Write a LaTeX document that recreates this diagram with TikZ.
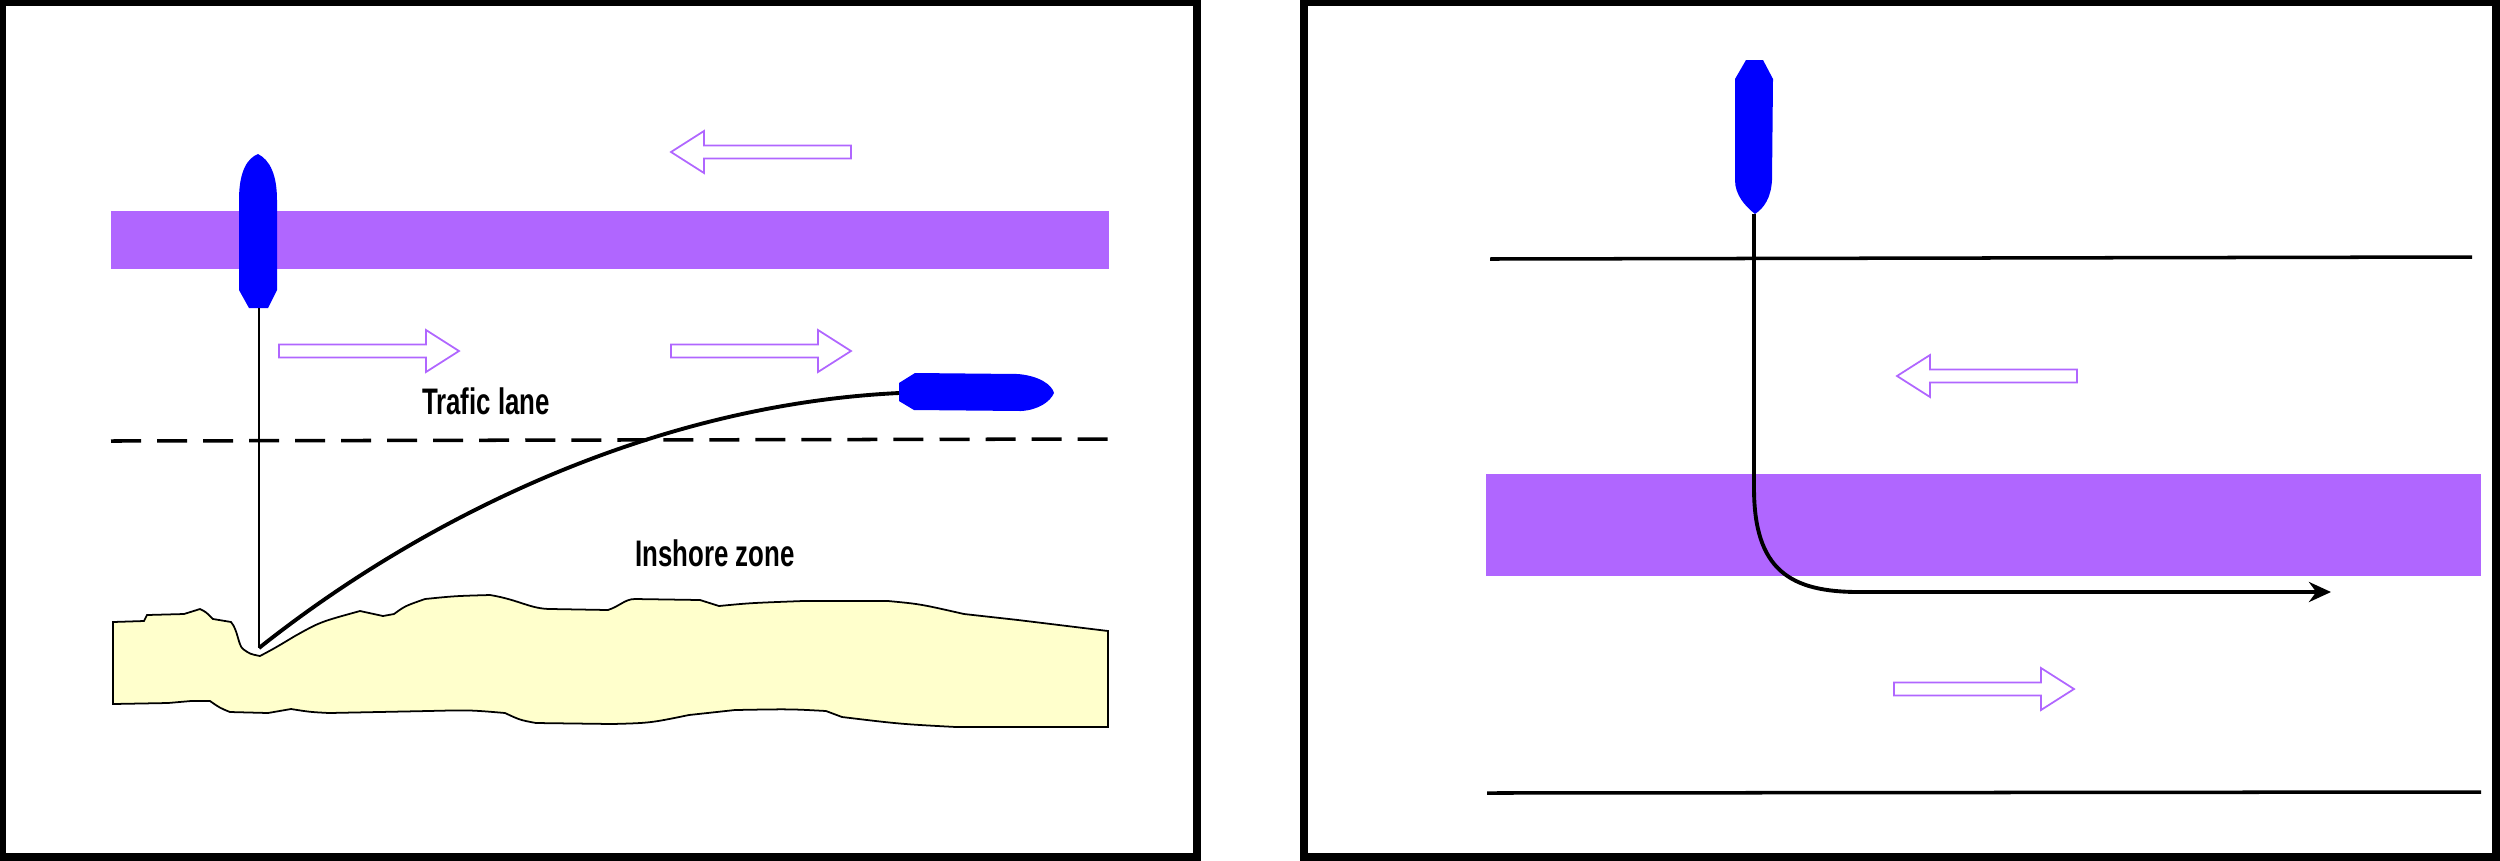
\documentclass[tikz,border=0pt]{standalone}
\usepackage{fontspec}
\setmainfont{Liberation Sans}
\usetikzlibrary{arrows.meta}

\definecolor{lanepurple}{HTML}{B066FF}
\definecolor{shipblue}{HTML}{0000FF}
\definecolor{sand}{HTML}{FFFFCC}

\tikzset{
  frame/.style={line width=2.2pt},
  separation/.style={fill=lanepurple, draw=none},
  lanearr/.style={draw=lanepurple, fill=white, line width=0.5pt},
  ship/.style={fill=shipblue, draw=none},
  track/.style={line width=1.1pt},
  zonetext/.style={font=\bfseries\fontsize{10.5}{12}\selectfont, transform shape, xscale=0.7}
}

% hollow lane arrow: tail x, y, direction (1 right, -1 left)
\newcommand{\lanearrow}[3]{%
  \draw[lanearr, shift={(#1,#2)}, xscale=#3]
    (0,-6.5) -- (147,-6.5) -- (147,-21) -- (180,0) -- (147,21) -- (147,6.5) -- (0,6.5) -- cycle;}

\begin{document}
\begin{tikzpicture}[x=0.01cm, y=-0.01cm]
\useasboundingbox (0,0) rectangle (2500,860);

% left panel
\draw[frame] (2,2) rectangle (1197,857);
\fill[separation] (111,211) rectangle (1109,269);
\lanearrow{851}{152}{-1}
\lanearrow{279}{351}{1}
\lanearrow{671}{351}{1}
\draw[line width=1pt, dash pattern=on 0.3cm off 0.16cm] (111,441) -- (1109,439);
\node[zonetext] (lane) at (486,401) {Trafic lane};
\node[zonetext] (inshore) at (715,553) {Inshore zone};

% coast
\draw[fill=sand, line width=0.5pt] (113,622) -- (144,621) -- (147,615) -- (184,614)
  .. controls (192,611) .. (200,609) .. controls (206,612) .. (213,619) -- (231,622)
  .. controls (238,630) and (238,645) .. (243,649) .. controls (250,654) .. (260,656)
  .. controls (275,648) .. (295,636) .. controls (320,622) .. (360,611) -- (383,616)
  -- (394,614) .. controls (405,606) .. (425,599) .. controls (455,596) .. (490,595)
  .. controls (520,600) and (530,609) .. (551,609) -- (608,610)
  .. controls (620,606) and (625,599) .. (635,599) -- (700,600) -- (719,606)
  .. controls (750,603) .. (803,601) -- (888,601) .. controls (920,604) .. (964,614)
  -- (1018,620) -- (1108,631) -- (1108,727) -- (956,727)
  .. controls (900,724) .. (842,717) -- (826,711) .. controls (790,709) .. (735,710)
  -- (689,715) .. controls (650,723) .. (612,724) -- (536,723)
  .. controls (520,720) .. (505,713) .. controls (470,710) .. (428,711)
  -- (329,713) .. controls (310,712) .. (291,709) -- (268,713) -- (230,712)
  .. controls (220,708) .. (210,701) -- (191,701) -- (168,703) -- (113,704) -- cycle;

% ships
\fill[ship] (249,308) -- (239,290) -- (239,200)
  .. controls (239,170) and (248,158) .. (258,154)
  .. controls (270,160) and (277,175) .. (277,200) -- (277,290) -- (268,308) -- cycle;
\coordinate (sternA) at (259,308);
\fill[ship] (899,383) -- (915,373) -- (1018,374)
  .. controls (1040,376) and (1052,385) .. (1054,393)
  .. controls (1050,402) and (1038,410) .. (1021,411) -- (914,410) -- (899,401) -- cycle;
\coordinate (sternB) at (899,393);
\coordinate (beach) at (259,648);
\draw[line width=0.8pt] (sternA) -- (beach);
\draw[track] (beach) .. controls (420,520) and (650,405) .. (sternB);

% right panel
\draw[frame] (1304,2) rectangle (2496,857);
\draw[line width=1pt] (1490,259) -- (2472,257);
\draw[line width=1pt] (1487,793) -- (2481,792);
\fill[separation] (1486,474) rectangle (2481,576);
\lanearrow{2077}{376}{-1}
\lanearrow{1894}{689}{1}
\fill[ship] (1746,60) -- (1763,60) -- (1773,79) -- (1772,180)
  .. controls (1771,198) and (1764,208) .. (1755,214)
  .. controls (1745,206) and (1735,195) .. (1735,180) -- (1735,79) -- cycle;
\coordinate (sternC) at (1754,214);
\coordinate (turn) at (1754,488);
\coordinate (goal) at (2331,592);
\draw[track, -{Stealth[length=0.22cm, width=0.2cm]}] (sternC) -- (turn)
  .. controls (1754,570) and (1790,592) .. (1859,592) -- (goal);
\end{tikzpicture}
\end{document}
